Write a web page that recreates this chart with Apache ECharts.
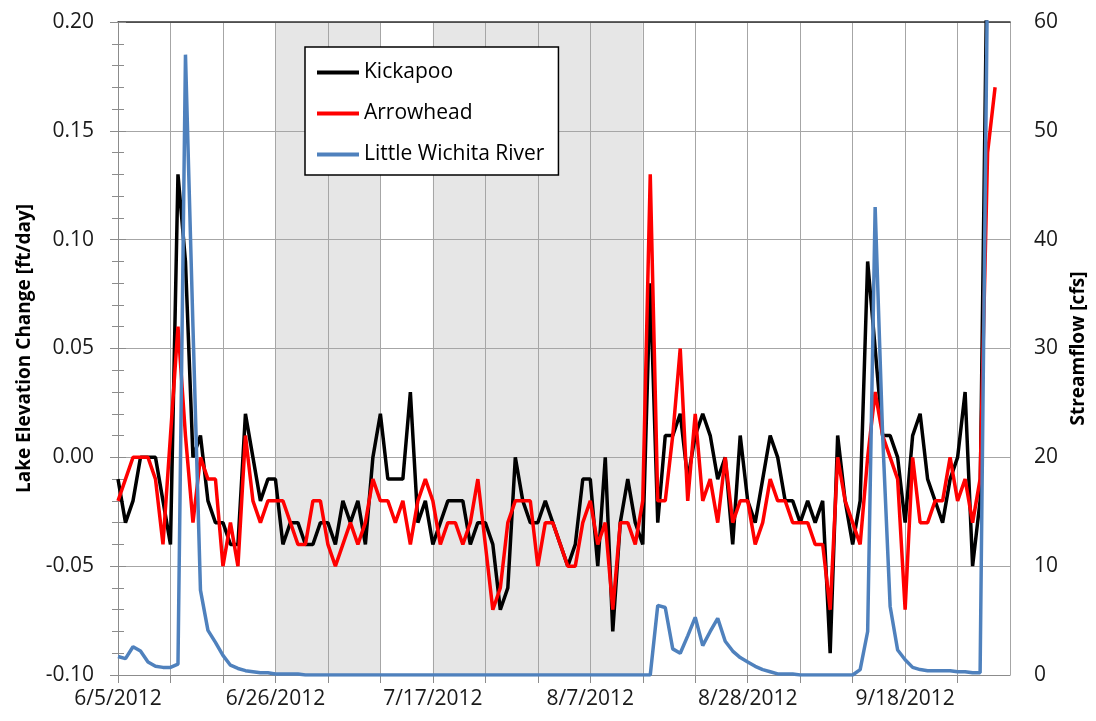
<!DOCTYPE html>
<html>
<head>
<meta charset="utf-8">
<script src="https://cdn.jsdelivr.net/npm/echarts@6/dist/echarts.min.js"></script>
<style>
  html, body { margin: 0; padding: 0; background: #fff; }
  #chart { width: 1096px; height: 721px; }
</style>
</head>
<body>
<div id="chart"></div>
<script>
// day index 0 = 6/5/2012, one value per day
const tickLabels = ['6/5/2012', '6/26/2012', '7/17/2012', '8/7/2012', '8/28/2012', '9/18/2012'];

const kickapoo = [
  -0.01, -0.03, -0.02, 0, 0, 0, -0.02, -0.04, 0.13, 0.09,
  0, 0.01, -0.02, -0.03, -0.03, -0.04, -0.04, 0.02, 0, -0.02,
  -0.01, -0.01, -0.04, -0.03, -0.03, -0.04, -0.04, -0.03, -0.03, -0.04,
  -0.02, -0.03, -0.02, -0.04, 0, 0.02, -0.01, -0.01, -0.01, 0.03,
  -0.03, -0.02, -0.04, -0.03, -0.02, -0.02, -0.02, -0.04, -0.03, -0.03,
  -0.04, -0.07, -0.06, 0, -0.02, -0.03, -0.03, -0.02, -0.03, -0.04,
  -0.05, -0.04, -0.01, -0.01, -0.05, 0, -0.08, -0.03, -0.01, -0.03,
  -0.04, 0.08, -0.03, 0.01, 0.01, 0.02, -0.01, 0.01, 0.02, 0.01,
  -0.01, 0, -0.04, 0.01, -0.02, -0.03, -0.01, 0.01, 0, -0.02,
  -0.02, -0.03, -0.02, -0.03, -0.02, -0.09, 0.01, -0.02, -0.04, -0.02,
  0.09, 0.05, 0.01, 0.01, 0, -0.03, 0.01, 0.02, -0.01, -0.02,
  -0.03, -0.01, 0, 0.03, -0.05, -0.02, 0.25, 0.25
];

const arrowhead = [
  -0.02, -0.01, 0, 0, 0, -0.01, -0.04, 0.01, 0.06, 0.01,
  -0.03, 0, -0.01, -0.01, -0.05, -0.03, -0.05, 0.01, -0.02, -0.03,
  -0.02, -0.02, -0.02, -0.03, -0.04, -0.04, -0.02, -0.02, -0.04, -0.05,
  -0.04, -0.03, -0.04, -0.03, -0.01, -0.02, -0.02, -0.03, -0.02, -0.04,
  -0.02, -0.01, -0.02, -0.04, -0.03, -0.03, -0.04, -0.03, -0.01, -0.04,
  -0.07, -0.06, -0.03, -0.02, -0.02, -0.02, -0.05, -0.03, -0.03, -0.04,
  -0.05, -0.05, -0.03, -0.02, -0.04, -0.03, -0.07, -0.03, -0.03, -0.04,
  -0.02, 0.13, -0.02, -0.02, 0.01, 0.05, -0.02, 0.02, -0.02, -0.01,
  -0.03, 0, -0.03, -0.02, -0.02, -0.04, -0.03, -0.01, -0.02, -0.02,
  -0.03, -0.03, -0.03, -0.04, -0.04, -0.07, 0, -0.02, -0.03, -0.04,
  0, 0.03, 0.01, 0, -0.01, -0.07, 0, -0.03, -0.03, -0.02,
  -0.02, 0, -0.02, -0.01, -0.03, -0.01, 0.14, 0.17
];

const littleWichita = [
  1.7, 1.5, 2.6, 2.2, 1.2, 0.8, 0.7, 0.7, 1.0, 57,
  32, 7.8, 4.1, 3.0, 1.8, 0.9, 0.6, 0.4, 0.3, 0.2,
  0.2, 0.1, 0.1, 0.1, 0.1, 0, 0, 0, 0, 0,
  0, 0, 0, 0, 0, 0, 0, 0, 0, 0,
  0, 0, 0, 0, 0, 0, 0, 0, 0, 0,
  0, 0, 0, 0, 0, 0, 0, 0, 0, 0,
  0, 0, 0, 0, 0, 0, 0, 0, 0, 0,
  0, 0, 6.4, 6.2, 2.4, 2.0, 3.6, 5.3, 2.7, 4.0,
  5.2, 3.1, 2.2, 1.6, 1.2, 0.8, 0.5, 0.3, 0.1, 0.1,
  0.1, 0, 0, 0, 0, 0, 0, 0, 0, 0.5,
  4, 43, 22, 6.3, 2.3, 1.4, 0.7, 0.5, 0.4, 0.4,
  0.4, 0.4, 0.3, 0.3, 0.2, 0.2, 65, 70
];

// grey bands, in day index
const shadedPeriods = [[21, 35], [42, 70]];

const toPoints = (values) => values.map((v, i) => [i, v]);

const fontFamily = '"Open Sans", "Liberation Sans", sans-serif';
const gridColor = '#a6a6a6';
const axisColor = '#8c8c8c';

const chart = echarts.init(document.getElementById('chart'));

const option = {
  animation: false,
  textStyle: { fontFamily },
  grid: { left: 118, right: 83, top: 22, bottom: 46 },
  legend: {
    orient: 'vertical',
    left: 305,
    top: 47,
    data: ['Kickapoo', 'Arrowhead', 'Little Wichita River'],
    backgroundColor: '#fff',
    borderColor: '#000',
    borderWidth: 1.5,
    borderRadius: 0,
    padding: [15, 14, 10, 10],
    itemWidth: 42,
    itemHeight: 18,
    itemGap: 20,
    itemStyle: { opacity: 0 },
    lineStyle: { width: 4 },
    textStyle: { fontSize: 21, color: '#000', fontFamily },
  },
  xAxis: [
    {
      type: 'value',
      min: 0,
      max: 119,
      interval: 7,
      axisLine: { onZero: false, lineStyle: { color: axisColor } },
      axisTick: { length: 8, lineStyle: { color: axisColor } },
      axisLabel: {
        margin: 14,
        fontSize: 21,
        color: '#1a1a1a',
        showMaxLabel: false,
        formatter: (v) => (v % 21 === 0 ? tickLabels[v / 21] : ''),
      },
      splitLine: { show: true, lineStyle: { color: gridColor } },
    },
    {
      // dark frame line across the top of the plot
      type: 'value',
      position: 'top',
      min: 0,
      max: 119,
      axisLine: { show: true, onZero: false, lineStyle: { color: '#333', width: 1.5 } },
      axisTick: { show: false },
      axisLabel: { show: false },
      splitLine: { show: false },
    },
  ],
  yAxis: [
    {
      type: 'value',
      min: -0.1,
      max: 0.2,
      interval: 0.05,
      name: 'Lake Elevation Change [ft/day]',
      nameLocation: 'middle',
      nameRotate: 90,
      nameGap: 84,
      nameTextStyle: { fontSize: 19, fontWeight: 'bold', color: '#000' },
      axisLine: { show: true, lineStyle: { color: axisColor } },
      axisTick: { show: true, length: 8, lineStyle: { color: axisColor } },
      minorTick: { show: true, splitNumber: 5, length: 6, lineStyle: { color: axisColor } },
      axisLabel: {
        margin: 24,
        fontSize: 21,
        color: '#1a1a1a',
        formatter: (v) => v.toFixed(2),
      },
      splitLine: { show: true, lineStyle: { color: gridColor } },
    },
    {
      type: 'value',
      position: 'right',
      min: 0,
      max: 60,
      interval: 10,
      name: 'Streamflow [cfs]',
      nameLocation: 'middle',
      nameRotate: 90,
      nameGap: 58,
      nameTextStyle: { fontSize: 19, fontWeight: 'bold', color: '#000' },
      axisLine: { show: true, lineStyle: { color: axisColor } },
      axisTick: { show: true, length: 8, lineStyle: { color: axisColor } },
      minorTick: { show: true, splitNumber: 5, length: 6, lineStyle: { color: axisColor } },
      axisLabel: { margin: 24, fontSize: 21, color: '#1a1a1a' },
      splitLine: { show: false },
    },
  ],
  series: [
    {
      name: 'shade',
      type: 'line',
      data: [],
      silent: true,
      markArea: {
        silent: true,
        z: -1,
        itemStyle: { color: '#e6e6e6' },
        data: shadedPeriods.map(([from, to]) => [{ xAxis: from }, { xAxis: to }]),
      },
    },
    {
      name: 'Kickapoo',
      type: 'line',
      data: toPoints(kickapoo),
      symbol: 'none',
      color: '#000',
      lineStyle: { width: 3.5, color: '#000' },
    },
    {
      name: 'Arrowhead',
      type: 'line',
      data: toPoints(arrowhead),
      symbol: 'none',
      color: '#ff0000',
      lineStyle: { width: 3.5, color: '#ff0000' },
    },
    {
      name: 'Little Wichita River',
      type: 'line',
      yAxisIndex: 1,
      data: toPoints(littleWichita),
      symbol: 'none',
      color: '#4f81bd',
      lineStyle: { width: 3.5, color: '#4f81bd' },
    },
  ],
};

chart.setOption(option);
</script>
</body>
</html>
